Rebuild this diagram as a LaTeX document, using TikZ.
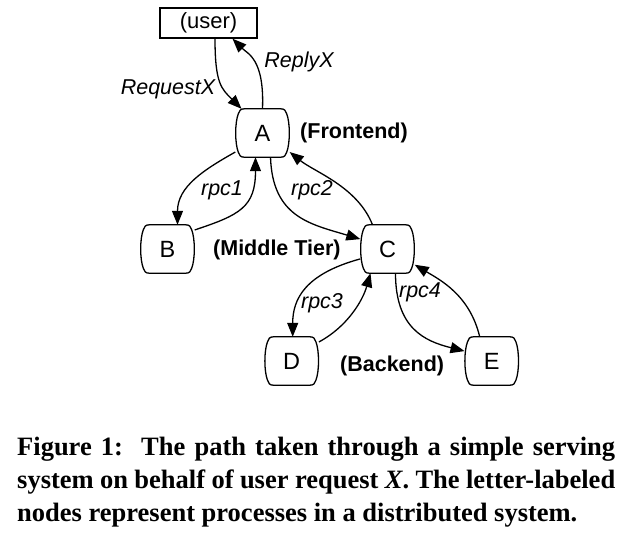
\documentclass[tikz,border=0pt]{standalone}
\usepackage{fontspec}
\usetikzlibrary{arrows.meta,calc}
\newfontfamily\helv{Liberation Sans}
\newfontfamily\capfont{Liberation Serif}
\newcommand\barrel[1]{%
\draw[line width=1.3pt] let \p1=(#1.north west), \p2=(#1.south east) in
 (\x1+9pt,\y1) -- (\x2-9pt,\y1)
 .. controls (\x2-5pt,\y1) and (\x2-4pt,\y1-2pt) .. (\x2-3pt,\y1-5pt)
 .. controls (\x2+0.5pt,\y1-14pt) and (\x2+0.5pt,\y2+14pt) .. (\x2-3pt,\y2+5pt)
 .. controls (\x2-4pt,\y2+2pt) and (\x2-5pt,\y2) .. (\x2-9pt,\y2)
 -- (\x1+9pt,\y2)
 .. controls (\x1+5pt,\y2) and (\x1+4pt,\y2+2pt) .. (\x1+3pt,\y2+5pt)
 .. controls (\x1-0.5pt,\y2+14pt) and (\x1-0.5pt,\y1-14pt) .. (\x1+3pt,\y1-5pt)
 .. controls (\x1+4pt,\y1-2pt) and (\x1+5pt,\y1) .. (\x1+9pt,\y1) -- cycle;}
\tikzset{
  proc/.style={minimum width=54pt, minimum height=48pt, inner sep=0pt, font=\helv\fontsize{23.5}{27}\selectfont},
  userbox/.style={draw, line width=1.3pt, minimum width=97pt, minimum height=30pt, inner sep=0pt, font=\helv\fontsize{22}{26}\selectfont},
  arr/.style={line width=1.3pt, -{Triangle[length=14pt,width=11pt]}},
  elab/.style={font=\helv\itshape\fontsize{21.5}{25}\selectfont, inner sep=0pt},
  tier/.style={font=\helv\bfseries\fontsize{21.5}{25}\selectfont, inner sep=0pt},
  capline/.style={font=\capfont\bfseries\fontsize{26.5}{32}\selectfont, inner sep=0pt, anchor=base west}
}
\begin{document}
\begin{tikzpicture}[x=1pt,y=-1pt]
\useasboundingbox (0,0) rectangle (642,554);
\node[userbox] (user) at (208.5,23) {(user)};
\node[proc] (A) at (262.5,133) {A};
\node[proc] (B) at (167.5,249) {B};
\node[proc] (C) at (387.5,249) {C};
\node[proc] (D) at (291.7,361) {D};
\node[proc] (E) at (491.7,361) {E};
\barrel{A}\barrel{B}\barrel{C}\barrel{D}\barrel{E}

\node[tier, anchor=west] (tf) at (300,133) {(Frontend)};
\node[tier, anchor=west] (tm) at (213,250) {(Middle Tier)};
\node[tier, anchor=west] (tb) at (340,366) {(Backend)};

\draw[arr] ([xshift=6.5pt]user.south) .. controls +(0,45) and +(-20,-20) .. ([xshift=-21pt]A.north);
\draw[arr] (A.north) .. controls +(2,-50) and +(15,15) .. ([xshift=24pt]user.south);
\node[elab] (lreq) at (168,89) {RequestX};
\node[elab] (lrep) at (299,62) {ReplyX};

\draw[arr] (A.215) .. controls +(-32,18) and +(0,-38) .. ([xshift=10pt]B.north);
\draw[arr] (B.35) .. controls +(45,-15) and +(0,50) .. ([xshift=-7pt]A.south);
\node[elab] (l1) at (222,190) {rpc1};

\draw[arr] ([xshift=8pt]A.south) .. controls +(2,60) and +(-50,-15) .. (C.160);
\draw[arr] ([xshift=-15pt]C.north) .. controls +(-15,-38) and +(25,20) .. (A.325);
\node[elab] (l2) at (312,190) {rpc2};

\draw[arr] (C.200) .. controls +(-55,15) and +(0,-38) .. ([xshift=1pt]D.north);
\draw[arr] (D.35) .. controls +(28,-15) and +(-8,28) .. ([xshift=-17pt]C.south);
\node[elab] (l3) at (322,303) {rpc3};

\draw[arr] ([xshift=8pt]C.south) .. controls +(0,55) and +(-40,-10) .. (E.160);
\draw[arr] ([xshift=-12pt]E.north) .. controls +(-10,-42) and +(25,15) .. (C.330);
\node[elab] (l4) at (420,292) {rpc4};

\node[capline] (c1) at (17,455) {\makebox[598pt][s]{Figure 1:\ \ The path taken through a simple serving}};
\node[capline] (c2) at (17,488) {\makebox[598pt][s]{system on behalf of user request \textit{X}. The letter-labeled}};
\node[capline] (c3) at (17,521) {nodes represent processes in a distributed system.};
\end{tikzpicture}
\end{document}
